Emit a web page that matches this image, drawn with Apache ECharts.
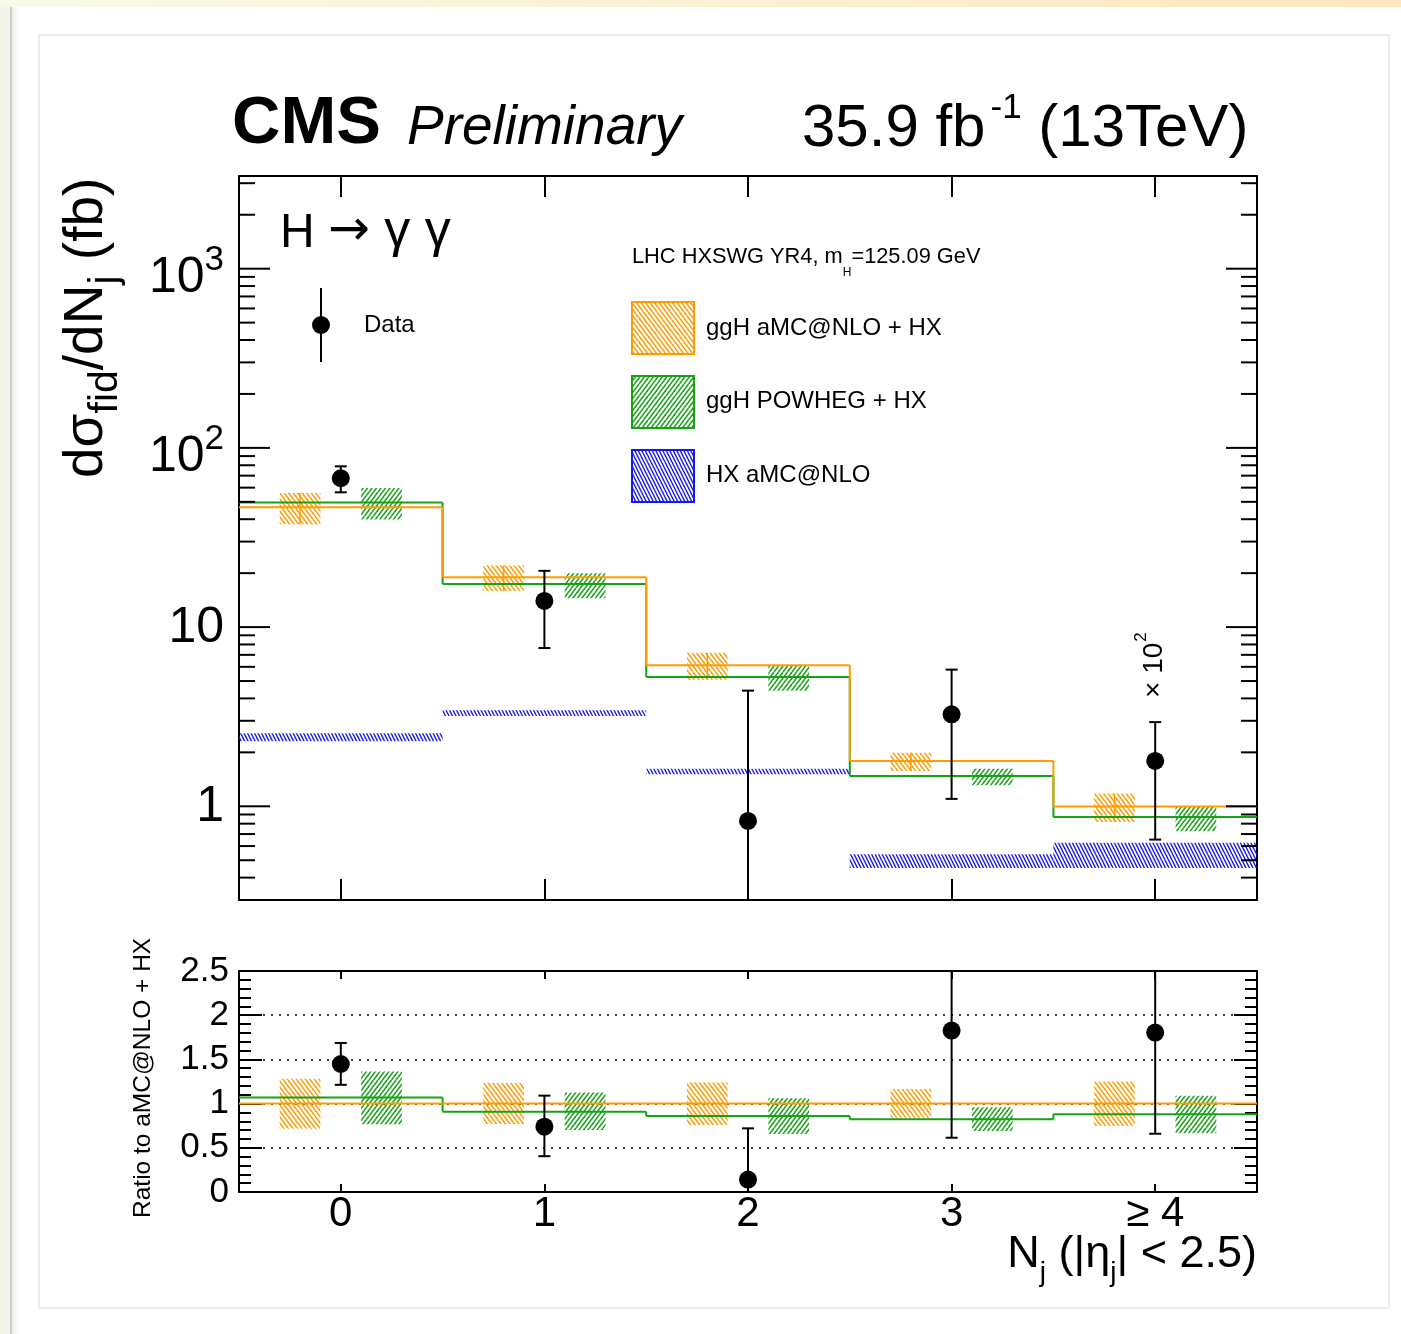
<!DOCTYPE html>
<html>
<head>
<meta charset="utf-8">
<script src="https://cdn.jsdelivr.net/npm/echarts@6/dist/echarts.min.js"></script>
<style>
  html, body { margin: 0; padding: 0; background: #ffffff; }
  #chart { width: 1401px; height: 1334px; }
</style>
</head>
<body>
<div id="chart"></div>
<script>
// ---- jet multiplicity bins ----
const categories = ['0', '1', '2', '3', '≥ 4'];

// measured fiducial cross section per bin (fb) with its error band
const dataValue = [67.7, 14.0, 0.828, 3.26, 1.79];
const dataUp    = [78.9, 20.6, 4.42, 5.79, 2.95];
const dataDown  = [56.5, 7.64, 0.0, 1.10, 0.652];

// ggH aMC@NLO + HX prediction and its uncertainty
const amcValue = [46.6, 19.0, 6.12, 1.79, 0.996];
const amcUp    = [56.0, 22.1, 7.2, 1.99, 1.177];
const amcDown  = [37.5, 15.9, 5.09, 1.574, 0.818];

// ggH POWHEG + HX prediction and its uncertainty
const powhegValue = [49.5, 17.4, 5.27, 1.476, 0.871];
const powhegUp    = [59.8, 20.0, 6.07, 1.62, 1.004];
const powhegDown  = [39.8, 14.5, 4.42, 1.31, 0.725];

// HX aMC@NLO band
const hxUp   = [2.56, 3.43, 1.62, 0.54, 0.627];
const hxDown = [2.31, 3.19, 1.51, 0.453, 0.453];

// ratio to aMC@NLO + HX
const ratioData      = [1.448, 0.739, 0.141, 1.826, 1.803];
const ratioDataUp    = [1.686, 1.09, 0.72, 3.23, 2.96];
const ratioDataDown  = [1.2125, 0.405, 0.0, 0.614, 0.659];
const ratioAmc       = [1, 1, 1, 1, 1];
const ratioAmcUp     = [1.28, 1.232, 1.239, 1.164, 1.25];
const ratioAmcDown   = [0.716, 0.769, 0.758, 0.841, 0.747];
const ratioPowheg    = [1.068, 0.909, 0.86, 0.823, 0.88];
const ratioPowhegUp  = [1.364, 1.125, 1.061, 0.959, 1.088];
const ratioPowhegDown= [0.766, 0.70, 0.656, 0.69, 0.664];

// axis decoration
const logDecades = [0.1, 1, 10, 100, 1000];
const logMantissas = [1, 2, 3, 4, 5, 6, 7, 8, 9];
const logLabels = [
  { v: 1, base: '1' },
  { v: 10, base: '10' },
  { v: 100, base: '10', exp: '2' },
  { v: 1000, base: '10', exp: '3' }
];
const Y_MIN = 0.3, Y_MAX = 3290;
const R_MIN = 0, R_MAX = 2.5;

const ORANGE = '#ff9c00';
const GREEN = '#17a117';
const BLUE = '#1414ff';
const FONT = "'Liberation Sans', Helvetica, Arial, sans-serif";

// ---- text helpers: runs of text pieces sharing one baseline ----
const measureCtx = document.createElement('canvas').getContext('2d');
function fontStr(p) {
  return (p.italic ? 'italic ' : '') + (p.bold ? 'bold ' : '') + p.size + 'px ' + (p.family || FONT);
}
function pieceWidth(p) {
  measureCtx.font = fontStr(p);
  return measureCtx.measureText(p.text).width;
}
function runWidth(parts) {
  return parts.reduce((w, p) => w + (p.gap || 0) + pieceWidth(p), 0);
}
function runGroup(x, y, parts, opts) {
  opts = opts || {};
  let cx = 0;
  const children = [];
  parts.forEach(p => {
    cx += p.gap || 0;
    children.push({
      type: 'text', x: cx, y: (p.dy || 0) - 0.347 * p.size, silent: true,
      style: {
        text: p.text, font: fontStr(p), fill: opts.color || '#000',
        align: 'left', verticalAlign: 'middle', textAlign: 'left', textVerticalAlign: 'middle'
      }
    });
    cx += pieceWidth(p);
  });
  return { type: 'group', x: x, y: y, rotation: opts.rotation || 0, children: children, z: 10 };
}

// ---- hatch fills ----
function hatch(color, step, slope, lw) {
  const s = Math.abs(slope);
  const W = Math.round(step * 2);
  const H = Math.round(s * step * 2);
  const c = document.createElement('canvas');
  c.width = W; c.height = H;
  const g = c.getContext('2d');
  g.strokeStyle = color; g.lineWidth = lw;
  const dx = H / s;
  for (let k = -Math.ceil(dx / step) - 3; k <= Math.ceil(W / step) + Math.ceil(dx / step) + 3; k++) {
    const x0 = k * step;
    g.beginPath();
    g.moveTo(x0, 0);
    g.lineTo(slope > 0 ? x0 + dx : x0 - dx, H);
    g.stroke();
  }
  return { image: c, repeat: 'repeat' };
}
const hatchOrange = hatch(ORANGE, 4.5, 4 / 3, 1.5);
const hatchGreen = hatch(GREEN, 4.5, -4 / 3, 1.5);
const hatchBlue = hatch(BLUE, 3.5, 2, 1.4);

// ---- render helpers for custom series ----
function bandWidth(api) {
  return api.coord([1, 1])[0] - api.coord([0, 1])[0];
}
function stepRender(color) {
  return function (params, api) {
    const i = api.value(0), v = api.value(1), vn = api.value(2);
    const bw = bandWidth(api);
    const p = api.coord([i, v]);
    const x0 = p[0] - bw / 2, x1 = p[0] + bw / 2;
    const children = [{
      type: 'line', shape: { x1: x0, y1: p[1], x2: x1, y2: p[1] },
      style: { stroke: color, lineWidth: 2 }
    }];
    if (isFinite(vn) && vn > 0) {
      const q = api.coord([i + 1, vn]);
      children.push({
        type: 'line', shape: { x1: x1, y1: p[1], x2: x1, y2: q[1] },
        style: { stroke: color, lineWidth: 2 }
      });
    }
    return { type: 'group', children: children };
  };
}
function boxRender(fill, color, offset, centerLine) {
  return function (params, api) {
    const i = api.value(0), lo = api.value(1), hi = api.value(2);
    const bw = bandWidth(api);
    const b = api.coord([i, lo]);
    const t = api.coord([i, hi])[1];
    const xc = b[0] + offset * bw, half = 0.1 * bw;
    const children = [{
      type: 'rect', shape: { x: xc - half, y: t, width: 2 * half, height: b[1] - t },
      style: { fill: fill }
    }];
    if (centerLine) {
      children.push({
        type: 'line', shape: { x1: xc, y1: t, x2: xc, y2: b[1] },
        style: { stroke: color, lineWidth: 1.5 }
      });
    }
    return { type: 'group', children: children };
  };
}
function bandRender(fill) {
  return function (params, api) {
    const i = api.value(0), lo = api.value(1), hi = api.value(2);
    const bw = bandWidth(api);
    const b = api.coord([i, lo]);
    const t = api.coord([i, hi])[1];
    return {
      type: 'rect', shape: { x: b[0] - bw / 2, y: t, width: bw, height: b[1] - t },
      style: { fill: fill }
    };
  };
}
function pointRender(yMin, yMax) {
  return function (params, api) {
    const i = api.value(0), v = api.value(1), lo = api.value(2), hi = api.value(3);
    const p = api.coord([i, v]);
    const yl = api.coord([i, Math.max(lo, yMin)])[1];
    const yh = api.coord([i, Math.min(hi, yMax)])[1];
    const st = { stroke: '#000', lineWidth: 2 };
    const children = [{ type: 'line', shape: { x1: p[0], y1: yh, x2: p[0], y2: yl }, style: st }];
    if (lo > yMin) children.push({ type: 'line', shape: { x1: p[0] - 6, y1: yl, x2: p[0] + 6, y2: yl }, style: st });
    if (hi < yMax) children.push({ type: 'line', shape: { x1: p[0] - 6, y1: yh, x2: p[0] + 6, y2: yh }, style: st });
    children.push({ type: 'circle', shape: { cx: p[0], cy: p[1], r: 9 }, style: { fill: '#000' } });
    return { type: 'group', children: children };
  };
}
function logTickRender(params, api) {
  const v = api.value(1), major = api.value(2) === 1;
  const y = api.coord([0, v])[1];
  const cs = params.coordSys;
  const len = major ? 31 : 16;
  const st = { stroke: '#000', lineWidth: 2 };
  return {
    type: 'group', children: [
      { type: 'line', shape: { x1: cs.x, y1: y, x2: cs.x + len, y2: y }, style: st },
      { type: 'line', shape: { x1: cs.x + cs.width - len, y1: y, x2: cs.x + cs.width, y2: y }, style: st }
    ]
  };
}
function logLabelRender(params, api) {
  const lab = logLabels[api.value(2)];
  const y = api.coord([0, lab.v])[1];
  const right = 224;
  let parts, base;
  if (lab.exp) {
    parts = [{ text: lab.base, size: 50 }, { text: lab.exp, size: 35, dy: -23 }];
    base = y + 27;
  } else {
    parts = [{ text: lab.base, size: 50 }];
    base = y + 18;
  }
  return runGroup(right - runWidth(parts), base, parts);
}

const zip3 = (a, b) => a.map((v, i) => [i, v, b[i]]);
const stepData = arr => arr.map((v, i) => [i, v, i < arr.length - 1 ? arr[i + 1] : NaN]);
const pointData = (v, lo, hi) => v.map((x, i) => [i, x, lo[i], hi[i]]);

const logTickData = [];
logDecades.forEach(d => logMantissas.forEach(m => {
  const v = +(d * m).toPrecision(3);
  if (v >= Y_MIN && v <= Y_MAX) logTickData.push([0, v, m === 1 ? 1 : 0]);
}));
const logLabelData = logLabels.map((l, i) => [0, l.v, i]);

// ---- axes ----
const blackLine = { color: '#000', width: 2 };
function catAxis(grid, pos, tickLen, labels) {
  return {
    gridIndex: grid, type: 'category', data: categories, position: pos, boundaryGap: true,
    axisLine: { show: true, onZero: false, lineStyle: blackLine },
    axisTick: { show: true, inside: true, alignWithLabel: true, interval: 0, length: tickLen, lineStyle: blackLine },
    axisLabel: labels ? { show: true, interval: 0, fontSize: 42, color: '#000', fontFamily: FONT, margin: 1 } : { show: false },
    splitLine: { show: false }
  };
}
function logAxis(pos) {
  return {
    gridIndex: 0, type: 'log', logBase: 10, min: Y_MIN, max: Y_MAX, position: pos,
    axisLine: { show: true, onZero: false, lineStyle: blackLine },
    axisTick: { show: false }, minorTick: { show: false },
    axisLabel: { show: false }, splitLine: { show: false }
  };
}
function ratioAxis(pos, labels) {
  return {
    gridIndex: 1, type: 'value', min: R_MIN, max: R_MAX, interval: 0.5, position: pos,
    axisLine: { show: true, onZero: false, lineStyle: blackLine },
    axisTick: { show: true, inside: true, length: 23, lineStyle: blackLine },
    minorTick: { show: true, splitNumber: 5, length: 12, lineStyle: { color: '#000', width: 2 } },
    axisLabel: labels ? { show: true, fontSize: 35, color: '#000', fontFamily: FONT, margin: 10, formatter: v => String(v) } : { show: false },
    splitLine: labels ? { show: true, lineStyle: { color: '#000', width: 1.5, type: [2, 6] } } : { show: false },
    minorSplitLine: { show: false }
  };
}

// ---- static texts, legend and page decoration ----
const graphics = [
  { type: 'rect', shape: { x: 0, y: 0, width: 1401, height: 7 }, z: -10,
    style: { fill: { type: 'linear', x: 0, y: 0, x2: 1, y2: 0, colorStops: [
      { offset: 0, color: '#f8fae8' }, { offset: 1, color: '#fde7bd' }] } } },
  { type: 'rect', shape: { x: 0, y: 7, width: 10, height: 1327 }, z: -10, style: { fill: '#f4f4ec' } },
  { type: 'rect', shape: { x: 10, y: 7, width: 2, height: 1327 }, z: -10, style: { fill: '#cfcfc6' } },
  { type: 'rect', shape: { x: 12, y: 7, width: 8, height: 1327 }, z: -10,
    style: { fill: { type: 'linear', x: 0, y: 0, x2: 1, y2: 0, colorStops: [
      { offset: 0, color: 'rgba(0,0,0,0.07)' }, { offset: 1, color: 'rgba(0,0,0,0)' }] } } },
  { type: 'rect', shape: { x: 39, y: 35, width: 1350, height: 1273 }, z: -9,
    style: { fill: '#fff', stroke: '#e6e6e6', lineWidth: 1.5 } },

  runGroup(232, 148, [{ text: 'CMS', size: 67, bold: true }]),
  runGroup(407, 148, [{ text: 'Preliminary', size: 55, italic: true }]),
  runGroup(802, 150, [
    { text: '35.9 fb', size: 60 },
    { text: '-1', size: 35, dy: -30, gap: 5 },
    { text: ' (13TeV)', size: 60 }
  ]),
  runGroup(280, 250, [
    { text: 'H ', size: 48 },
    { text: '→', size: 50, family: "'DejaVu Sans', sans-serif", dy: -1 },
    { text: ' γ γ', size: 52 }
  ]),

  // y axis titles
  runGroup(106, 478, [
    { text: 'dσ', size: 55 },
    { text: 'fid', size: 41, dy: 14 },
    { text: '/dN', size: 55 },
    { text: 'j', size: 41, dy: 14 },
    { text: ' (fb)', size: 55 }
  ], { rotation: Math.PI / 2 }),
  runGroup(152, 1218, [{ text: 'Ratio to aMC@NLO + HX', size: 24.5 }], { rotation: Math.PI / 2 }),

  // x axis title, right aligned to the frame
  (function () {
    const parts = [
      { text: 'N', size: 45 },
      { text: 'j', size: 28, dy: 13 },
      { text: ' (|η', size: 45 },
      { text: 'j', size: 28, dy: 13 },
      { text: '| < 2.5)', size: 45 }
    ];
    return runGroup(1257 - runWidth(parts), 1270, parts);
  })(),

  // scale note for the last bin
  runGroup(1164, 698, [
    { text: '× 10', size: 28 },
    { text: '2', size: 17, dy: -17, gap: 1 }
  ], { rotation: Math.PI / 2 }),

  // legend
  { type: 'line', shape: { x1: 321, y1: 288, x2: 321, y2: 362 }, style: { stroke: '#000', lineWidth: 2 } },
  { type: 'circle', shape: { cx: 321, cy: 325, r: 9 }, style: { fill: '#000' } },
  runGroup(364, 334, [{ text: 'Data', size: 24 }]),
  runGroup(632, 265, [
    { text: 'LHC HXSWG YR4, m', size: 21.8 },
    { text: 'H', size: 12, dy: 12 },
    { text: '=125.09 GeV', size: 21.8 }
  ]),
  { type: 'rect', shape: { x: 632, y: 302, width: 62, height: 52 }, style: { fill: hatchOrange, stroke: ORANGE, lineWidth: 2 } },
  { type: 'rect', shape: { x: 632, y: 376, width: 62, height: 52 }, style: { fill: hatchGreen, stroke: GREEN, lineWidth: 2 } },
  { type: 'rect', shape: { x: 632, y: 450, width: 62, height: 52 }, style: { fill: hatchBlue, stroke: BLUE, lineWidth: 2 } },
  runGroup(706, 337, [{ text: 'ggH aMC@NLO + HX', size: 24 }]),
  runGroup(706, 410, [{ text: 'ggH POWHEG + HX', size: 24 }]),
  runGroup(706, 484, [{ text: 'HX aMC@NLO', size: 24 }])
];

const mainAxes = { xAxisIndex: 0, yAxisIndex: 0 };
const ratioAxes = { xAxisIndex: 2, yAxisIndex: 2 };
function custom(axes, name, data, renderItem, z) {
  return Object.assign({ type: 'custom', name: name, data: data, renderItem: renderItem,
    encode: { x: 0, y: 1 }, silent: true, z: z || 2 }, axes);
}

const option = {
  animation: false,
  backgroundColor: '#ffffff',
  grid: [
    { left: 239, top: 176, width: 1018, height: 724, containLabel: false, outerBoundsMode: 'none' },
    { left: 239, top: 971, width: 1018, height: 221, containLabel: false, outerBoundsMode: 'none' }
  ],
  xAxis: [
    catAxis(0, 'bottom', 21, false),
    catAxis(0, 'top', 21, false),
    catAxis(1, 'bottom', 8, true),
    catAxis(1, 'top', 8, false)
  ],
  yAxis: [logAxis('left'), logAxis('right'), ratioAxis('left', true), ratioAxis('right', false)],
  graphic: { elements: graphics },
  series: [
    custom(mainAxes, 'logTicks', logTickData, logTickRender, 5),
    custom(mainAxes, 'logLabels', logLabelData, logLabelRender, 5),
    custom(mainAxes, 'HX aMC@NLO', zip3(hxDown, hxUp), bandRender(hatchBlue)),
    custom(mainAxes, 'ggH aMC@NLO + HX band', zip3(amcDown, amcUp), boxRender(hatchOrange, ORANGE, -0.2, true)),
    custom(mainAxes, 'ggH POWHEG + HX band', zip3(powhegDown, powhegUp), boxRender(hatchGreen, GREEN, 0.2, false)),
    custom(mainAxes, 'ggH POWHEG + HX', stepData(powhegValue), stepRender(GREEN), 3),
    custom(mainAxes, 'ggH aMC@NLO + HX', stepData(amcValue), stepRender(ORANGE), 3),
    custom(mainAxes, 'Data', pointData(dataValue, dataDown, dataUp), pointRender(Y_MIN, Y_MAX), 4),

    custom(ratioAxes, 'ratio aMC band', zip3(ratioAmcDown, ratioAmcUp), boxRender(hatchOrange, ORANGE, -0.2, false)),
    custom(ratioAxes, 'ratio POWHEG band', zip3(ratioPowhegDown, ratioPowhegUp), boxRender(hatchGreen, GREEN, 0.2, false)),
    custom(ratioAxes, 'ratio POWHEG', stepData(ratioPowheg), stepRender(GREEN), 3),
    custom(ratioAxes, 'ratio aMC', stepData(ratioAmc), stepRender(ORANGE), 3),
    custom(ratioAxes, 'ratio Data', pointData(ratioData, ratioDataDown, ratioDataUp), pointRender(R_MIN, R_MAX), 4)
  ]
};

const chart = echarts.init(document.getElementById('chart'), null, { renderer: 'canvas', width: 1401, height: 1334 });
chart.setOption(option);
</script>
</body>
</html>
